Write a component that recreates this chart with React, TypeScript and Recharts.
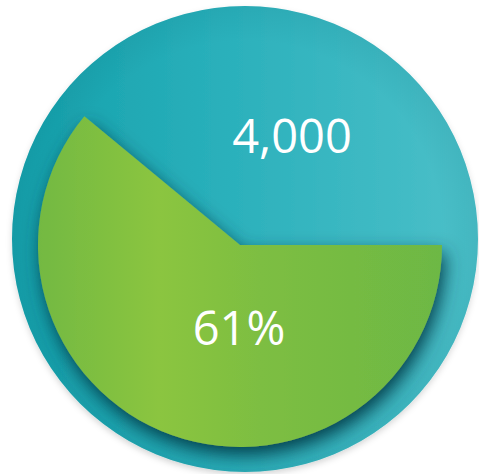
import { PieChart, Pie, Cell } from 'recharts'

// background disc
const discData = [{ name: 'Total', value: 1 }]

// share slice
const categories = ['Share', 'Rest']
const values = [61, 39]
const labels = ['61%', '4,000']

const shareData = categories.map((name, i) => ({ name, value: values[i], label: labels[i] }))

const FONT = '"Open Sans", "Noto Sans", sans-serif'

const renderLabel = (props: any) => {
    const { cx, cy, index } = props
    // hand placed like the infographic
    if (index === 0) {
        return (
            <text x={cx - 1} y={cy + 100} textAnchor="middle" fill="#ffffff" fontFamily={FONT} fontSize={47}>
                {labels[0]}
            </text>
        )
    }
    return (
        <text x={cx + 52} y={cy - 92} textAnchor="middle" fill="#ffffff" fontFamily={FONT} fontSize={47}>
            {labels[1]}
        </text>
    )
}

export default function App() {
    return (
        <div style={{ position: 'absolute', left: 0, top: 0, width: 479, height: 474, background: '#ffffff' }}>
            <PieChart width={479} height={474} margin={{ top: 0, right: 0, bottom: 0, left: 0 }}>
                <defs>
                    <linearGradient id="tealGrad" x1="0" y1="0" x2="1" y2="0">
                        <stop offset="0%" stopColor="#14a0ab" />
                        <stop offset="45%" stopColor="#2ab0bb" />
                        <stop offset="100%" stopColor="#4cc0c9" />
                    </linearGradient>
                    <radialGradient id="rimGrad" cx="0.5" cy="0.5" r="0.5">
                        <stop offset="85%" stopColor="#0a6f7a" stopOpacity={0} />
                        <stop offset="100%" stopColor="#0a6f7a" stopOpacity={0.12} />
                    </radialGradient>
                    <linearGradient id="greenGrad" x1="0" y1="0" x2="1" y2="0">
                        <stop offset="0%" stopColor="#73b943" />
                        <stop offset="30%" stopColor="#8bc53f" />
                        <stop offset="55%" stopColor="#7dbe42" />
                        <stop offset="100%" stopColor="#6db844" />
                    </linearGradient>
                    <filter id="discShadow" x="-10%" y="-10%" width="120%" height="125%">
                        <feDropShadow dx="0" dy="3" stdDeviation="3" floodColor="#000000" floodOpacity="0.15" />
                    </filter>
                    <filter id="sliceShadow" x="-20%" y="-20%" width="140%" height="145%">
                        <feDropShadow dx="3" dy="8" stdDeviation="9" floodColor="#063a46" floodOpacity="0.95" />
                    </filter>
                </defs>
                <Pie
                    data={discData}
                    dataKey="value"
                    cx={245}
                    cy={239}
                    innerRadius={0}
                    outerRadius={233}
                    stroke="none"
                    isAnimationActive={false}
                >
                    <Cell fill="url(#tealGrad)" filter="url(#discShadow)" />
                </Pie>
                <Pie
                    data={discData}
                    dataKey="value"
                    cx={245}
                    cy={239}
                    innerRadius={0}
                    outerRadius={233}
                    stroke="none"
                    isAnimationActive={false}
                >
                    <Cell fill="url(#rimGrad)" />
                </Pie>
                <Pie
                    data={shareData}
                    dataKey="value"
                    cx={240}
                    cy={245}
                    innerRadius={0}
                    outerRadius={202}
                    startAngle={0}
                    endAngle={-360}
                    stroke="none"
                    labelLine={false}
                    label={renderLabel}
                    isAnimationActive={false}
                >
                    <Cell fill="url(#greenGrad)" filter="url(#sliceShadow)" />
                    <Cell fill="none" />
                </Pie>
            </PieChart>
        </div>
    )
}
